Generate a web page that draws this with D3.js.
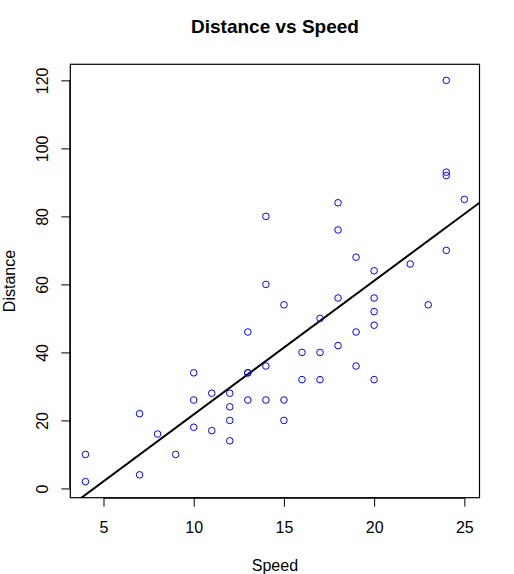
<!DOCTYPE html>
<html><head><meta charset="utf-8">
<script src="https://cdn.jsdelivr.net/npm/d3@7"></script>
<style>body{margin:0;background:#fff}svg{display:block}text{font-family:"Liberation Sans",Arial,sans-serif}</style>
</head><body>
<script>
const speed = [4,4,7,7,8,9,10,10,10,11,11,12,12,12,12,13,13,13,13,14,14,14,14,15,15,15,16,16,17,17,17,18,18,18,18,19,19,19,20,20,20,20,20,22,23,24,24,24,24,25];
const dist = [2,10,4,22,16,10,18,26,34,17,28,14,20,24,28,26,34,34,46,26,36,60,80,20,26,54,32,40,32,40,50,42,56,76,84,36,46,68,32,48,52,56,64,66,54,70,92,93,120,85];
const xTicks = [5,10,15,20,25];
const yTicks = [0,20,40,60,80,100,120];
const fitIntercept = -17.579, fitSlope = 3.932;

const W = 514, H = 574;
const L = 70.3, R = 479.5, T = 64.3, B = 497.7;
const svg = d3.select("body").append("svg").attr("width", W).attr("height", H);

const x = d3.scaleLinear().domain([3.16, 25.84]).range([L, R]);
const y = d3.scaleLinear().domain([-2.72, 124.72]).range([B, T]);

svg.append("defs").append("clipPath").attr("id","clip")
  .append("rect").attr("x", L).attr("y", T).attr("width", R-L).attr("height", B-T);

// regression line
const xd = x.domain();
svg.append("line").attr("clip-path","url(#clip)")
  .attr("x1", x(xd[0])).attr("y1", y(fitIntercept + fitSlope*xd[0]))
  .attr("x2", x(xd[1])).attr("y2", y(fitIntercept + fitSlope*xd[1]))
  .attr("stroke","#000").attr("stroke-width",2);

// points
svg.append("g").selectAll("circle").data(speed.map((s,i)=>[s,dist[i]])).join("circle")
  .attr("cx", d=>x(d[0])).attr("cy", d=>y(d[1])).attr("r", 3.3)
  .attr("fill","none").attr("stroke","#0000ff").attr("stroke-width",1);

// box
svg.append("rect").attr("x", L).attr("y", T).attr("width", R-L).attr("height", B-T)
  .attr("fill","none").attr("stroke","#000").attr("stroke-width",1.2);

// x axis
const xa = svg.append("g").attr("transform", `translate(0,${B})`)
  .call(d3.axisBottom(x).tickValues(xTicks).tickSize(9).tickPadding(15).tickFormat(d3.format("d")));
xa.select(".domain").attr("d", `M${x(5)},0.5H${x(25)}`).attr("stroke-width",1);
xa.selectAll("text").attr("font-size","16px").attr("fill","#000");

// y axis
const ya = svg.append("g").attr("transform", `translate(${L},0)`)
  .call(d3.axisLeft(y).tickValues(yTicks).tickSize(9).tickFormat(d3.format("d")));
ya.select(".domain").attr("d", `M-0.5,${y(0)}V${y(120)}`).attr("stroke-width",1);
ya.selectAll(".tick text").attr("font-size","16px").attr("fill","#000")
  .attr("x", 0).attr("y", 0).attr("dy", "0").attr("text-anchor","middle")
  .attr("transform", `translate(-22,0) rotate(-90)`);

// title
svg.append("text").attr("x", 275).attr("y", 33).attr("text-anchor","middle")
  .attr("font-size","19px").attr("font-weight","bold").text("Distance vs Speed");
// axis titles
svg.append("text").attr("x", (L+R)/2).attr("y", 570.5).attr("text-anchor","middle")
  .attr("font-size","16px").text("Speed");
svg.append("text").attr("transform", `translate(14.5,${(T+B)/2}) rotate(-90)`).attr("text-anchor","middle")
  .attr("font-size","16px").text("Distance");
</script>
</body></html>
